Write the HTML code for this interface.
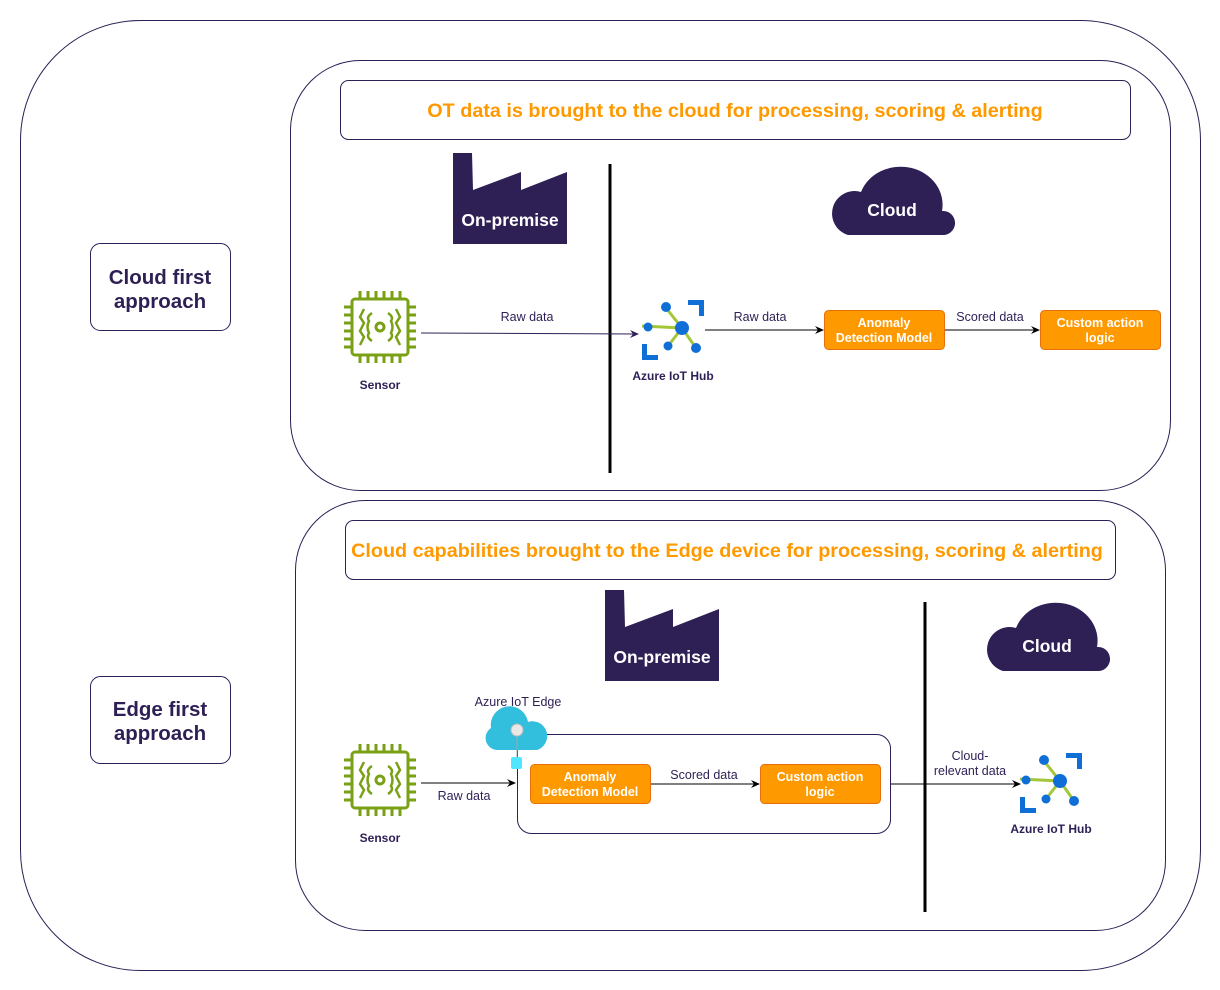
<!DOCTYPE html>
<html><head><meta charset="utf-8"><style>html,body{margin:0;padding:0;background:#fff}svg{display:block}text{font-family:"Liberation Sans","DejaVu Sans",sans-serif}</style></head><body>
<svg width="1220" height="990" viewBox="0 0 1220 990" xmlns="http://www.w3.org/2000/svg">
<defs>
<marker id="ar" markerWidth="10" markerHeight="10" refX="8" refY="5" orient="auto" markerUnits="userSpaceOnUse"><path d="M0,1 L9,5 L0,9 L3,5 Z" fill="#000"/></marker>
<marker id="arp" markerWidth="10" markerHeight="10" refX="8" refY="5" orient="auto" markerUnits="userSpaceOnUse"><path d="M0,1 L9,5 L0,9 L3,5 Z" fill="#2e1f55"/></marker>
</defs>
<rect x="20.5" y="20.5" width="1180" height="950" rx="120" fill="#fff" stroke="#2e1f55"/>
<rect x="290.5" y="60.5" width="880" height="430" rx="70" fill="#fff" stroke="#2e1f55"/>
<rect x="295.5" y="500.5" width="870" height="430" rx="70" fill="#fff" stroke="#2e1f55"/>
<rect x="340.5" y="80.5" width="790" height="59" rx="8" fill="#fff" stroke="#2e1f55"/>
<text x="735" y="117" font-size="19.8" font-weight="bold" fill="#ff9900" text-anchor="middle">OT data is brought to the cloud for processing, scoring &amp; alerting</text>
<rect x="345.5" y="520.5" width="770" height="59" rx="8" fill="#fff" stroke="#2e1f55"/>
<text x="727" y="557" font-size="19.8" font-weight="bold" fill="#ff9900" text-anchor="middle">Cloud capabilities brought to the Edge device for processing, scoring &amp; alerting</text>
<rect x="90.5" y="243.5" width="140" height="87" rx="10" fill="#fff" stroke="#2e1f55"/>
<text x="160" y="284" font-size="20.5" font-weight="bold" fill="#2e1f55" text-anchor="middle">Cloud first</text>
<text x="160" y="308" font-size="20.5" font-weight="bold" fill="#2e1f55" text-anchor="middle">approach</text>
<rect x="90.5" y="676.5" width="140" height="87" rx="10" fill="#fff" stroke="#2e1f55"/>
<text x="160" y="716" font-size="20.5" font-weight="bold" fill="#2e1f55" text-anchor="middle">Edge first</text>
<text x="160" y="740" font-size="20.5" font-weight="bold" fill="#2e1f55" text-anchor="middle">approach</text>

<!-- factories -->
<path d="M453,153 H472 L473,190 L521,172 V190 L567,172 V244 H453 Z" fill="#2e1f55"/>
<text x="510" y="226" font-size="17.5" font-weight="bold" fill="#fff" text-anchor="middle">On-premise</text>
<path d="M605,590 H624 L625,627 L673,609 V627 L719,609 V681 H605 Z" fill="#2e1f55"/>
<text x="662" y="663" font-size="17.5" font-weight="bold" fill="#fff" text-anchor="middle">On-premise</text>

<!-- clouds -->
<path d="M848,235 H944 A12,12 0 0 0 942,211 A42,38 0 0 0 861,192 A22,22 0 0 0 848,235 Z" fill="#2e1f55"/>
<text x="892" y="216" font-size="17.5" font-weight="bold" fill="#fff" text-anchor="middle">Cloud</text>
<path d="M1003,671 H1099 A12,12 0 0 0 1097,647 A42,38 0 0 0 1016,628 A22,22 0 0 0 1003,671 Z" fill="#2e1f55"/>
<text x="1047" y="652" font-size="17.5" font-weight="bold" fill="#fff" text-anchor="middle">Cloud</text>

<!-- dividers -->
<line x1="610" y1="164" x2="610" y2="473" stroke="#000" stroke-width="3"/>
<line x1="925" y1="602" x2="925" y2="912" stroke="#000" stroke-width="3"/>

<!-- sensors -->
<g transform="translate(380,327)" fill="none" stroke="#7aa116" stroke-width="3">
<rect x="-28" y="-28" width="56" height="56" rx="3"/>
<path d="M-20,-28 V-36 M-12,-28 V-36 M-4,-28 V-36 M4,-28 V-36 M12,-28 V-36 M20,-28 V-36 M-20,28 V36 M-12,28 V36 M-4,28 V36 M4,28 V36 M12,28 V36 M20,28 V36 M-28,-20 H-36 M-28,-12 H-36 M-28,-4 H-36 M-28,4 H-36 M-28,12 H-36 M-28,20 H-36 M28,-20 H36 M28,-12 H36 M28,-4 H36 M28,4 H36 M28,12 H36 M28,20 H36"/>
<circle cx="0" cy="0" r="4"/>
<path d="M-8,-14 Q-14,-10 -11,-6 Q-14,0 -11,6 Q-14,10 -8,14 M8,-14 Q14,-10 11,-6 Q14,0 11,6 Q14,10 8,14 M-16,-18 L-20,-10 L-16,-4 L-20,4 L-16,10 L-20,18 M16,-18 L20,-10 L16,-4 L20,4 L16,10 L20,18" stroke-width="2.5"/>
</g>
<text x="380" y="389" font-size="12" fill="#2e1f55" text-anchor="middle" font-weight="bold">Sensor</text>
<g transform="translate(0,453)">
<g transform="translate(380,327)" fill="none" stroke="#7aa116" stroke-width="3">
<rect x="-28" y="-28" width="56" height="56" rx="3"/>
<path d="M-20,-28 V-36 M-12,-28 V-36 M-4,-28 V-36 M4,-28 V-36 M12,-28 V-36 M20,-28 V-36 M-20,28 V36 M-12,28 V36 M-4,28 V36 M4,28 V36 M12,28 V36 M20,28 V36 M-28,-20 H-36 M-28,-12 H-36 M-28,-4 H-36 M-28,4 H-36 M-28,12 H-36 M-28,20 H-36 M28,-20 H36 M28,-12 H36 M28,-4 H36 M28,4 H36 M28,12 H36 M28,20 H36"/>
<circle cx="0" cy="0" r="4"/>
<path d="M-8,-14 Q-14,-10 -11,-6 Q-14,0 -11,6 Q-14,10 -8,14 M8,-14 Q14,-10 11,-6 Q14,0 11,6 Q14,10 8,14 M-16,-18 L-20,-10 L-16,-4 L-20,4 L-16,10 L-20,18 M16,-18 L20,-10 L16,-4 L20,4 L16,10 L20,18" stroke-width="2.5"/>
</g>
<text x="380" y="389" font-size="12" fill="#2e1f55" text-anchor="middle" font-weight="bold">Sensor</text>
</g>

<!-- IoT hubs -->
<g transform="translate(672,330)">
<path d="M-30,-4 L10,-2 M10,-2 L-6,-22 M10,-2 L-4,16 M10,-2 L24,18" stroke="#a4c639" stroke-width="3"/>
<circle cx="10" cy="-2" r="7" fill="#0f6fd6"/><circle cx="-6" cy="-23" r="5" fill="#0f6fd6"/><circle cx="-24" cy="-3" r="4.5" fill="#0f6fd6"/><circle cx="-4" cy="16" r="4.5" fill="#0f6fd6"/><circle cx="24" cy="18" r="5" fill="#0f6fd6"/>
<path d="M16,-30 H32 V-14 H27 V-25 H16 Z M-30,30 H-14 V25 H-25 V14 H-30 Z" fill="#0f6fd6"/>
</g>
<text x="673" y="380" font-size="12" fill="#2e1f55" text-anchor="middle" font-weight="bold">Azure IoT Hub</text>
<g transform="translate(1050,783)">
<path d="M-30,-4 L10,-2 M10,-2 L-6,-22 M10,-2 L-4,16 M10,-2 L24,18" stroke="#a4c639" stroke-width="3"/>
<circle cx="10" cy="-2" r="7" fill="#0f6fd6"/><circle cx="-6" cy="-23" r="5" fill="#0f6fd6"/><circle cx="-24" cy="-3" r="4.5" fill="#0f6fd6"/><circle cx="-4" cy="16" r="4.5" fill="#0f6fd6"/><circle cx="24" cy="18" r="5" fill="#0f6fd6"/>
<path d="M16,-30 H32 V-14 H27 V-25 H16 Z M-30,30 H-14 V25 H-25 V14 H-30 Z" fill="#0f6fd6"/>
</g>
<text x="1051" y="833" font-size="12" fill="#2e1f55" text-anchor="middle" font-weight="bold">Azure IoT Hub</text>

<!-- top flow -->
<line x1="421" y1="333" x2="638" y2="334" stroke="#2e1f55" marker-end="url(#arp)"/>
<text x="527" y="321" font-size="12.5" fill="#2e1f55" text-anchor="middle">Raw data</text>
<line x1="705" y1="330" x2="823" y2="330" stroke="#000" marker-end="url(#ar)"/>
<text x="760" y="321" font-size="12.5" fill="#2e1f55" text-anchor="middle">Raw data</text>
<rect x="824.5" y="310.5" width="120" height="39" rx="4" fill="#ff9900" stroke="#e8700a"/>
<text x="884" y="327" font-size="12.5" font-weight="bold" fill="#fff" text-anchor="middle">Anomaly</text>
<text x="884" y="342" font-size="12.5" font-weight="bold" fill="#fff" text-anchor="middle">Detection Model</text>
<line x1="945" y1="330" x2="1039" y2="330" stroke="#000" marker-end="url(#ar)"/>
<text x="990" y="321" font-size="12.5" fill="#2e1f55" text-anchor="middle">Scored data</text>
<rect x="1040.5" y="310.5" width="120" height="39" rx="4" fill="#ff9900" stroke="#e8700a"/>
<text x="1100" y="327" font-size="12.5" font-weight="bold" fill="#fff" text-anchor="middle">Custom action</text>
<text x="1100" y="342" font-size="12.5" font-weight="bold" fill="#fff" text-anchor="middle">logic</text>

<!-- edge flow -->
<rect x="517.5" y="734.5" width="373" height="99" rx="14" fill="#fff" stroke="#2e1f55"/>
<line x1="421" y1="783" x2="515" y2="783" stroke="#000" marker-end="url(#ar)"/>
<text x="464" y="800" font-size="12.5" fill="#2e1f55" text-anchor="middle">Raw data</text>
<path d="M497,750 A12,12 0 0 1 491,728 A18,18 0 0 1 528,722 A14,14 0 0 1 537,750 Z" fill="#32bedd"/>
<line x1="517" y1="730" x2="517" y2="760" stroke="#9aa"/>
<circle cx="517" cy="730" r="6" fill="#e8e8e8" stroke="#bbb"/>
<rect x="511" y="757" width="11" height="12" rx="2" fill="#50e6ff"/>
<text x="518" y="706" font-size="12.5" fill="#2e1f55" text-anchor="middle">Azure IoT Edge</text>
<rect x="530.5" y="764.5" width="120" height="39" rx="4" fill="#ff9900" stroke="#e8700a"/>
<text x="590" y="781" font-size="12.5" font-weight="bold" fill="#fff" text-anchor="middle">Anomaly</text>
<text x="590" y="796" font-size="12.5" font-weight="bold" fill="#fff" text-anchor="middle">Detection Model</text>
<line x1="651" y1="784" x2="759" y2="784" stroke="#000" marker-end="url(#ar)"/>
<text x="704" y="779" font-size="12.5" fill="#2e1f55" text-anchor="middle">Scored data</text>
<rect x="760.5" y="764.5" width="120" height="39" rx="4" fill="#ff9900" stroke="#e8700a"/>
<text x="820" y="781" font-size="12.5" font-weight="bold" fill="#fff" text-anchor="middle">Custom action</text>
<text x="820" y="796" font-size="12.5" font-weight="bold" fill="#fff" text-anchor="middle">logic</text>
<line x1="891" y1="784" x2="1020" y2="784" stroke="#000" marker-end="url(#ar)"/>
<text x="970" y="760" font-size="12.5" fill="#2e1f55" text-anchor="middle">Cloud-</text>
<text x="970" y="775" font-size="12.5" fill="#2e1f55" text-anchor="middle">relevant data</text>
</svg>
</body></html>
